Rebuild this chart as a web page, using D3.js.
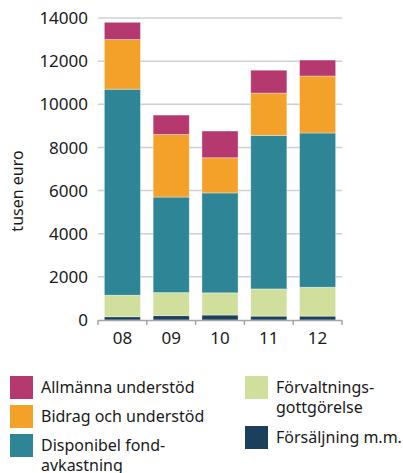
<!DOCTYPE html>
<html>
<head>
<meta charset="utf-8">
<script src="https://cdn.jsdelivr.net/npm/d3@7"></script>
<style>
  body { margin: 0; background: #fff; }
  text { font-family: "Noto Sans", sans-serif; fill: #1a1a1a; }
</style>
</head>
<body>
<script>
var years = ["08", "09", "10", "11", "12"];
var forsaljning = [150, 200, 230, 180, 180];
var forvaltning = [1000, 1070, 1030, 1260, 1340];
var disponibel = [9550, 4430, 4630, 7120, 7150];
var bidrag = [2300, 2900, 1630, 1960, 2640];
var allmanna = [800, 900, 1240, 1060, 740];
var yTicks = [0, 2000, 4000, 6000, 8000, 10000, 12000, 14000];

var keys = ["forsaljning", "forvaltning", "disponibel", "bidrag", "allmanna"];
var colors = {
  allmanna: "#b5396f",
  bidrag: "#f4a12a",
  disponibel: "#2e8596",
  forvaltning: "#d1df9c",
  forsaljning: "#1c3f5b"
};

var rows = years.map(function (y, i) {
  return {
    year: y,
    forsaljning: forsaljning[i],
    forvaltning: forvaltning[i],
    disponibel: disponibel[i],
    bidrag: bidrag[i],
    allmanna: allmanna[i]
  };
});

var svg = d3.select("body").append("svg")
            .attr("width", 403)
            .attr("height", 473);

var x = d3.scaleBand()
          .domain(years)
          .range([98, 342])
          .paddingInner(0.26)
          .paddingOuter(0.13);

var y = d3.scaleLinear()
          .domain([0, 14000])
          .range([320, 18]);

// grid lines
svg.append("g")
   .selectAll("line")
   .data(yTicks.slice(1))
   .enter().append("line")
   .attr("x1", 98).attr("x2", 342)
   .attr("y1", function (d) { return y(d); })
   .attr("y2", function (d) { return y(d); })
   .attr("stroke", "#d0d0d0")
   .attr("stroke-width", 1.5);

// y labels
svg.append("g")
   .selectAll("text")
   .data(yTicks)
   .enter().append("text")
   .attr("x", 88)
   .attr("y", function (d) { return y(d); })
   .attr("dy", "0.36em")
   .attr("text-anchor", "end")
   .style("font-size", "17px")
   .text(function (d) { return d; });

svg.append("text")
   .attr("transform", "translate(17,191) rotate(-90)")
   .attr("text-anchor", "middle")
   .attr("dy", "0.35em")
   .style("font-size", "16px")
   .text("tusen euro");

var series = d3.stack().keys(keys)(rows);

svg.append("g")
   .selectAll("g")
   .data(series)
   .enter().append("g")
   .attr("fill", function (d) { return colors[d.key]; })
   .selectAll("rect")
   .data(function (d) { return d; })
   .enter().append("rect")
   .attr("x", function (d) { return x(d.data.year); })
   .attr("width", x.bandwidth())
   .attr("y", function (d) { return y(d[1]); })
   .attr("height", function (d) { return y(d[0]) - y(d[1]); })
   .attr("stroke", "rgba(255,255,255,0.45)")
   .attr("stroke-width", 0.8);

// x axis line, ticks sit on the band edges
svg.append("line")
   .attr("x1", 98).attr("x2", 342)
   .attr("y1", 320.5).attr("y2", 320.5)
   .attr("stroke", "#a6a6a6")
   .attr("stroke-width", 1.5);

var tickX = years.map(function (d) { return x(d) - x.step() * x.paddingInner() / 2; });
tickX[0] = 98;
tickX.push(342);
svg.append("g")
   .selectAll("line")
   .data(tickX)
   .enter().append("line")
   .attr("x1", function (d) { return d; })
   .attr("x2", function (d) { return d; })
   .attr("y1", 320).attr("y2", 325)
   .attr("stroke", "#a6a6a6")
   .attr("stroke-width", 1.5);

svg.append("g")
   .selectAll("text")
   .data(years)
   .enter().append("text")
   .attr("x", function (d) { return x(d) + x.bandwidth() / 2; })
   .attr("y", 344)
   .attr("text-anchor", "middle")
   .style("font-size", "17px")
   .text(function (d) { return d; });

// legend
var legend = [
  { key: "allmanna", lines: ["Allmänna understöd"], x: 10, y: 376 },
  { key: "bidrag", lines: ["Bidrag och understöd"], x: 10, y: 405 },
  { key: "disponibel", lines: ["Disponibel fond-", "avkastning"], x: 10, y: 434 },
  { key: "forvaltning", lines: ["Förvaltnings-", "gottgörelse"], x: 245, y: 376 },
  { key: "forsaljning", lines: ["Försäljning m.m."], x: 245, y: 426 }
];

var lg = svg.append("g")
            .selectAll("g")
            .data(legend)
            .enter().append("g")
            .attr("transform", function (d) { return "translate(" + d.x + "," + d.y + ")"; });

lg.append("rect")
  .attr("width", 23).attr("height", 23)
  .attr("fill", function (d) { return colors[d.key]; });

lg.append("text")
  .attr("x", 31)
  .attr("y", 17)
  .style("font-size", "16px")
  .selectAll("tspan")
  .data(function (d) { return d.lines; })
  .enter().append("tspan")
  .attr("x", 31)
  .attr("dy", function (d, i) { return i === 0 ? 0 : 20; })
  .text(function (d) { return d; });
</script>
</body>
</html>
